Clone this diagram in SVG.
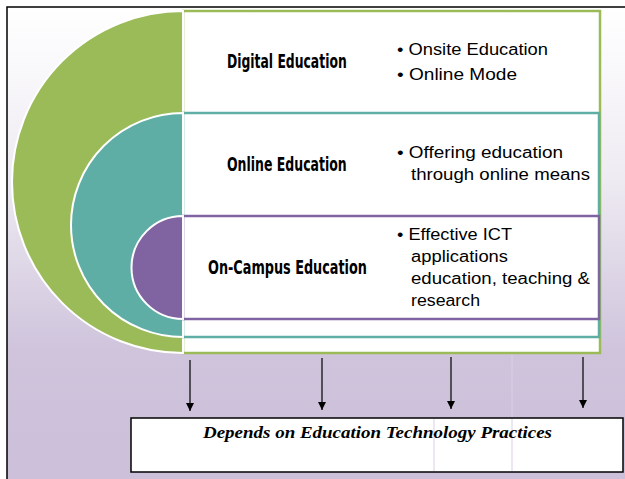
<svg xmlns="http://www.w3.org/2000/svg" width="625" height="479" viewBox="0 0 625 479">
<defs>
<linearGradient id="bg" x1="0" y1="0" x2="0" y2="1">
<stop offset="0" stop-color="#ffffff"/>
<stop offset="0.35" stop-color="#eeebf2"/>
<stop offset="0.7" stop-color="#cfc4dc"/>
<stop offset="1" stop-color="#cbbfd9"/>
</linearGradient>
<marker id="ah" viewBox="0 0 10 10" refX="10" refY="5" markerWidth="8" markerHeight="8" markerUnits="userSpaceOnUse" orient="auto">
<path d="M0,0 L10,5 L0,10 Z" fill="#000"/>
</marker>
<style>
.title{font-family:"DejaVu Sans Condensed","DejaVu Sans",sans-serif;font-weight:bold;font-size:20px;fill:#000}
.body{font-family:"Liberation Sans","Open Sans",sans-serif;font-size:16px;fill:#000}
.band{fill:#fff;stroke-width:2.5}
.half{stroke:#fff;stroke-width:2}
.arr{stroke:#000;stroke-width:1.2;marker-end:url(#ah)}
</style>
</defs>
<rect x="0" y="0" width="625" height="479" fill="#fff"/>
<rect x="7" y="7" width="630" height="490" fill="url(#bg)" stroke="#000" stroke-width="1.5"/>
<line x1="512" y1="90" x2="512" y2="472" stroke="#d9cfe6" stroke-width="1"/>

<g id="digital">
<rect class="band" x="183" y="11" width="417" height="342" stroke="#9bbb59"/>
<path class="half" d="M183,11 A171,171 0 0,0 183,353 Z" fill="#9bbb59"/>
<text class="title" transform="translate(227,68) scale(0.7,1)" x="0" y="0" textLength="171" lengthAdjust="spacingAndGlyphs">Digital Education</text>
<text class="body" x="397" y="55" textLength="151" lengthAdjust="spacingAndGlyphs">• Onsite Education</text>
<text class="body" x="397" y="80" textLength="120" lengthAdjust="spacingAndGlyphs">• Online Mode</text>
</g>

<g id="online">
<rect class="band" x="183" y="113" width="416" height="224" stroke="#5faea6"/>
<path class="half" d="M183,113 A112,112 0 0,0 183,337 Z" fill="#5faea6"/>
<text class="title" transform="translate(227,171) scale(0.7,1)" x="0" y="0" textLength="171" lengthAdjust="spacingAndGlyphs">Online Education</text>
<text class="body"><tspan x="397" y="158" textLength="166" lengthAdjust="spacingAndGlyphs">• Offering education</tspan><tspan x="411" y="180" textLength="179" lengthAdjust="spacingAndGlyphs">through online means</tspan></text>
</g>

<g id="oncampus">
<rect class="band" x="183" y="216" width="416" height="103" stroke="#8064a2"/>
<path class="half" d="M183,216 A51.5,51.5 0 0,0 183,319 Z" fill="#8064a2"/>
<text class="title" transform="translate(208,274) scale(0.7,1)" x="0" y="0" textLength="227" lengthAdjust="spacingAndGlyphs">On-Campus Education</text>
<text class="body"><tspan x="397" y="240" textLength="115" lengthAdjust="spacingAndGlyphs">• Effective ICT</tspan><tspan x="411" y="262" textLength="97" lengthAdjust="spacingAndGlyphs">applications</tspan><tspan x="411" y="284" textLength="179" lengthAdjust="spacingAndGlyphs">education, teaching &amp;</tspan><tspan x="411" y="306" textLength="69" lengthAdjust="spacingAndGlyphs">research</tspan></text>
</g>

<g id="connectors">
<line class="arr" x1="190" y1="360" x2="190" y2="411"/>
<line class="arr" x1="322" y1="358" x2="322" y2="410"/>
<line class="arr" x1="451" y1="357" x2="451" y2="409"/>
<line class="arr" x1="583" y1="357" x2="583" y2="408"/>
</g>

<g id="practices">
<rect x="131" y="418" width="492" height="54" fill="#fff" stroke="#000" stroke-width="1.5"/>
<line x1="434" y1="419" x2="434" y2="471" stroke="#d9cfe6" stroke-width="1"/>
<line x1="512" y1="419" x2="512" y2="471" stroke="#d9cfe6" stroke-width="1"/>
<text x="203" y="438" font-family="'Liberation Serif',serif" font-weight="bold" font-style="italic" font-size="16" textLength="349" lengthAdjust="spacingAndGlyphs">Depends on Education Technology Practices</text>
</g>
</svg>
